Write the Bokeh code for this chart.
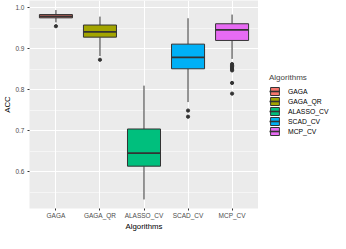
from bokeh.plotting import figure
from bokeh.layouts import row
from bokeh.models import (ColumnDataSource, FactorRange, Range1d, FixedTicker,
                          PrintfTickFormatter, Legend, LegendItem)
from bokeh.transform import dodge
from bokeh.embed import file_html
from bokeh.resources import INLINE

# ---- data ----
algorithms = ["GAGA", "GAGA_QR", "ALASSO_CV", "SCAD_CV", "MCP_CV"]
colors = ["#F8766D", "#A3A500", "#00BF7D", "#00B0F6", "#E76BF3"]
q1 = [0.975, 0.928, 0.614, 0.851, 0.920]
median = [0.9785, 0.941, 0.646, 0.879, 0.9456]
q3 = [0.983, 0.9575, 0.7045, 0.911, 0.9606]
whisker_low = [0.964, 0.882, 0.533, 0.770, 0.875]
whisker_high = [0.994, 0.978, 0.810, 0.974, 0.983]
outlier_alg = ["GAGA", "GAGA_QR", "SCAD_CV", "SCAD_CV",
               "MCP_CV", "MCP_CV", "MCP_CV", "MCP_CV", "MCP_CV", "MCP_CV",
               "MCP_CV", "MCP_CV"]
outlier_val = [0.9546, 0.873, 0.7494, 0.7345,
               0.8625, 0.859, 0.856, 0.853, 0.850, 0.847,
               0.8166, 0.7906]
y_ticks = [0.6, 0.7, 0.8, 0.9, 1.0]
y_minor = [0.55, 0.65, 0.75, 0.85, 0.95]

FONT = "Liberation Sans"
EDGE = "#333333"

src = ColumnDataSource(dict(cat=algorithms, color=colors, q1=q1, med=median,
                            q3=q3, lo=whisker_low, hi=whisker_high))
osrc = ColumnDataSource(dict(cat=outlier_alg, val=outlier_val))

p = figure(width=258, height=233, output_backend="svg",
           toolbar_location=None,
           x_range=FactorRange(factors=algorithms, range_padding=0.04),
           y_range=Range1d(0.511, 1.0172),
           min_border_left=0, min_border_right=0, min_border_top=0,
           min_border_bottom=0)
p.background_fill_color = "#EBEBEB"
p.border_fill_color = "white"
p.outline_line_color = None

# grids
p.ygrid.ticker = FixedTicker(ticks=y_ticks, minor_ticks=y_minor)
p.ygrid.grid_line_color = "white"
p.ygrid.grid_line_width = 1.1
p.ygrid.minor_grid_line_color = "white"
p.ygrid.minor_grid_line_width = 0.5
p.xgrid.grid_line_color = "white"
p.xgrid.grid_line_width = 1.1

# axes
p.yaxis.ticker = FixedTicker(ticks=y_ticks, minor_ticks=y_minor)
p.yaxis.formatter = PrintfTickFormatter(format="%.1f")
for ax in (p.xaxis[0], p.yaxis[0]):
    ax.axis_line_color = None
    ax.major_tick_line_color = EDGE
    ax.major_tick_out = 2
    ax.major_tick_in = 0
    ax.minor_tick_line_color = None
    ax.major_label_text_color = "#4D4D4D"
    ax.major_label_text_font = FONT
    ax.major_label_text_font_size = "6.5px"
    ax.major_label_standoff = 1
    ax.axis_label_text_font = FONT
    ax.axis_label_text_font_size = "7.8px"
    ax.axis_label_text_font_style = "normal"
    ax.axis_label_text_color = "black"
    ax.axis_label_standoff = 0
p.xaxis.axis_label = "Algorithms"
p.yaxis.axis_label = "ACC"

# whiskers
p.segment(x0="cat", y0="q3", x1="cat", y1="hi", source=src,
          line_color=EDGE, line_width=1)
p.segment(x0="cat", y0="lo", x1="cat", y1="q1", source=src,
          line_color=EDGE, line_width=1)
# boxes
p.vbar(x="cat", bottom="q1", top="q3", width=0.75, source=src,
       fill_color="color", line_color=EDGE, line_width=1)
p.segment(x0=dodge("cat", -0.375, range=p.x_range), y0="med",
          x1=dodge("cat", 0.375, range=p.x_range), y1="med",
          source=src, line_color=EDGE, line_width=1.8)
# outliers
p.scatter(x="cat", y="val", source=osrc, size=3.2, fill_color=EDGE,
          line_color=EDGE)

# ---- legend in a side figure ----
lf = figure(width=72, height=233, output_backend="svg", toolbar_location=None,
            x_axis_type=None, y_axis_type=None,
            x_range=Range1d(0, 1), y_range=Range1d(0, 1),
            min_border_left=0, min_border_right=0, min_border_top=0,
            min_border_bottom=0)
lf.outline_line_color = None
lf.grid.visible = False
lsrc = ColumnDataSource(dict(x=[5.0] * len(algorithms), color=colors))
lbox = lf.vbar(x="x", bottom=0, top=1, width=0.1, source=lsrc,
               fill_color="color", line_color=EDGE, line_width=1)
lmed = lf.segment(x0="x", y0=0.5, x1="x", y1=0.5, source=lsrc,
                  line_color=EDGE, line_width=1.6)
items = [LegendItem(label=a, renderers=[lbox, lmed], index=i)
         for i, a in enumerate(algorithms)]
legend = Legend(items=items, title="Algorithms", location=(11, 72),
                label_text_font=FONT, label_text_font_size="6.8px",
                label_text_color="black",
                title_text_font=FONT, title_text_font_size="8px",
                title_text_font_style="normal", title_standoff=4,
                glyph_width=11, glyph_height=10, label_height=10,
                label_standoff=8, spacing=0, padding=0, margin=0,
                border_line_color=None, background_fill_alpha=0)
lf.add_layout(legend)

layout = row(p, lf)
open("out.html", "w").write(file_html(layout, INLINE))
